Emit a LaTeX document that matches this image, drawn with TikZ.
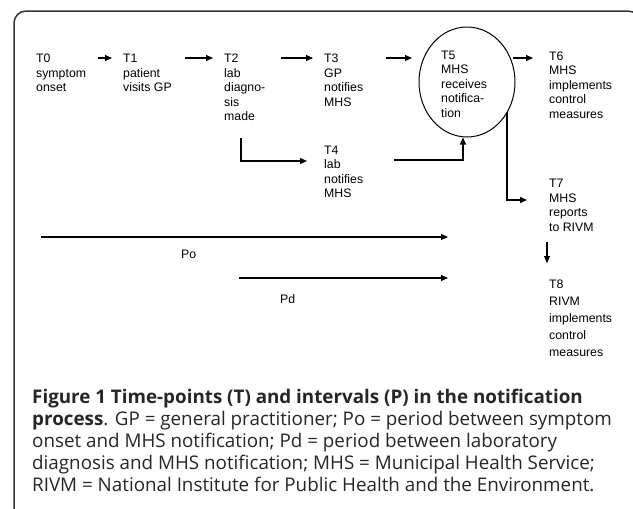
\documentclass[tikz,border=0pt]{standalone}
\usepackage{fontspec}
\setmainfont{Liberation Sans}
\newfontfamily\capfont{Open Sans}
\usetikzlibrary{arrows.meta,shapes.geometric}
\newcommand{\ml}[1]{\begin{tabular}[t]{@{}l@{}}#1\end{tabular}}
\begin{document}
\begin{tikzpicture}[x=1pt,y=-1pt,
  lbl/.style={anchor=base west, inner sep=0pt, font=\fontsize{12.3}{14.6}\selectfont},
  lblb/.style={anchor=base west, inner sep=0pt, font=\fontsize{12.3}{17}\selectfont},
  arr/.style={line width=1.1pt, -{Triangle[length=7pt,width=6pt]}},
  captxt/.style={anchor=base west, inner sep=0pt, text=black!85, font=\capfont\fontsize{18.8}{22}\selectfont},
  framebox/.style={draw=black!80, line width=1.5pt, rounded corners=12pt}]
\useasboundingbox (0,0) rectangle (633,509);
\clip (0,0) rectangle (633,509);
\draw[framebox] (14,11) rectangle (640,540);
% nodes
\node[lbl] (t0) at (36,62.5) {\ml{T0\\symptom\\onset}};
\node[lbl] (t1) at (123,62.5) {\ml{T1\\patient\\visits GP}};
\node[lbl] (t2) at (224,62.5) {\ml{T2\\lab\\diagno-\\sis\\made}};
\node[lbl] (t3) at (324,62.5) {\ml{T3\\GP\\notifies\\MHS}};
\node[lbl] (t4) at (324,154) {\ml{T4\\lab\\notifies\\MHS}};
\node[draw, line width=1pt, ellipse, minimum width=96pt, minimum height=110pt, inner sep=0pt] (t5e) at (467,82) {};
\node[lbl] (t5) at (441,59) {\ml{T5\\MHS\\receives\\notifica-\\tion}};
\node[lbl] (t6) at (549,60) {\ml{T6\\MHS\\implements\\control\\measures}};
\node[lbl] (t7) at (549,187.5) {\ml{T7\\MHS\\reports\\to RIVM}};
\node[lblb] (t8) at (549,288) {\ml{T8\\RIVM\\implements\\control\\measures}};
\node[lbl] (po) at (181,258) {Po};
\node[lbl] (pd) at (280,303) {Pd};
% coordinates
\coordinate (a1s) at (98,58);  \coordinate (a1e) at (112,58);
\coordinate (a2s) at (185,58); \coordinate (a2e) at (213,58);
\coordinate (a3s) at (281,58); \coordinate (a3e) at (313,58);
\coordinate (a4s) at (386,58); \coordinate (a4e) at (412,58);
\coordinate (a5s) at (513,58); \coordinate (a5e) at (533,58);
\coordinate (a6s) at (241,138); \coordinate (a6e) at (307,161);
\coordinate (a7s) at (394,160); \coordinate (a7e) at (463,137.5);
\coordinate (a8s) at (507,112); \coordinate (a8e) at (527,200);
\coordinate (a9s) at (547,242); \coordinate (a9e) at (547,263);
\coordinate (pos) at (41,237); \coordinate (poe) at (448,237);
\coordinate (pds) at (239,278); \coordinate (pde) at (448,278);
% connectors
\draw[arr] (a1s) -- (a1e);
\draw[arr] (a2s) -- (a2e);
\draw[arr] (a3s) -- (a3e);
\draw[arr] (a4s) -- (a4e);
\draw[arr] (a5s) -- (a5e);
\draw[arr] (a6s) |- (a6e);
\draw[arr] (a7s) -| (a7e);
\draw[arr] (a8s) |- (a8e);
\draw[arr] (a9s) -- (a9e);
\draw[arr] (pos) -- (poe);
\draw[arr] (pds) -- (pde);
% caption
\node[captxt] (c1) at (32,403) {\bfseries Figure 1 Time-points (T) and intervals (P) in the notification};
\node[captxt] (c2) at (32,425) {{\bfseries process}. GP = general practitioner; Po = period between symptom};
\node[captxt] (c3) at (32,447) {onset and MHS notification; Pd = period between laboratory};
\node[captxt] (c4) at (32,469) {diagnosis and MHS notification; MHS = Municipal Health Service;};
\node[captxt] (c5) at (32,491) {RIVM = National Institute for Public Health and the Environment.};
\end{tikzpicture}
\end{document}
